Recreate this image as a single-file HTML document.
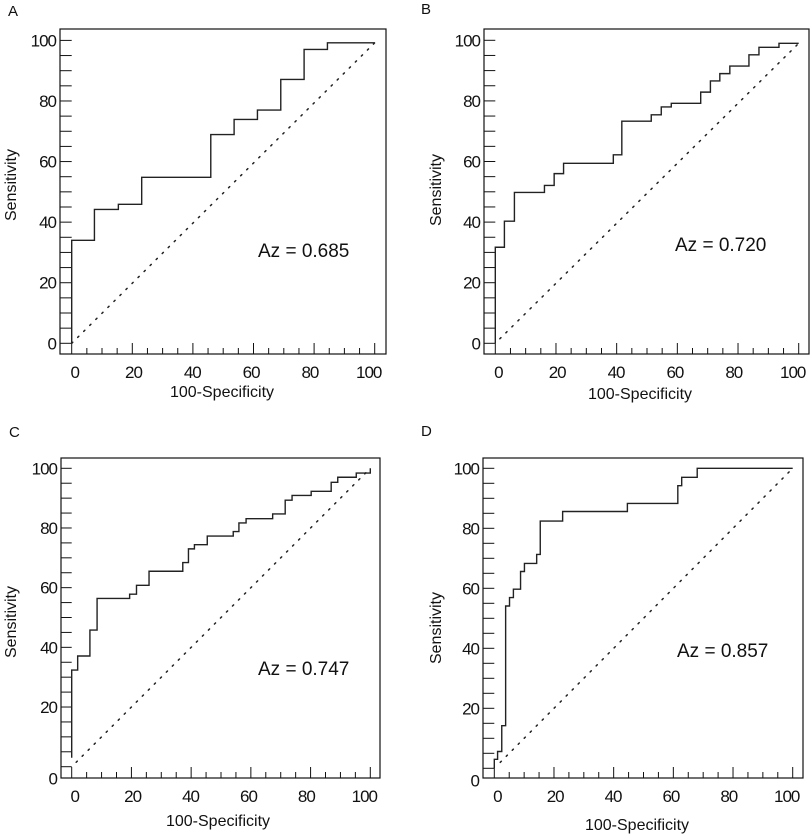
<!DOCTYPE html>
<html><head><meta charset="utf-8"><style>
html,body{margin:0;padding:0;background:#fff;}
svg{display:block;font-family:"Liberation Sans",Arial,sans-serif;}
</style></head><body>
<svg id="chart" width="810" height="835" viewBox="0 0 810 835" xmlns="http://www.w3.org/2000/svg"></svg>
<script>
// ---- data ----
const panelLetters = ["A","B","C","D"];
const azValues = ["0.685","0.720","0.747","0.857"];
const tickValues = [0,20,40,60,80,100];
const aX = [0,0,7.5,15.4,23.1,45.9,53.6,61.3,69,76.7,84.4,100];
const aY = [0,34,44.2,45.9,54.8,68.9,73.9,77,87.1,97,99.2,99.2];
const bX = [0,0,3,6.3,16.2,19.4,22.5,38.9,41.7,51.4,54.7,58,67.7,70.9,74,77.3,83.6,86.9,93.5,100];
const bY = [0,31.7,40.3,49.8,52.1,56,59.4,62.2,73.3,75.4,78,79.2,82.9,86.6,89,91.5,95.2,97.7,99,99];
const cX = [0,0,2,6.1,8.5,19.4,21.7,25.9,37.2,39.1,41.1,45.4,54.1,56,58.4,67.3,71.5,73.8,80.2,86.9,89.1,95.3,100];
const cY = [3,32.4,37.1,45.8,56.4,57.8,60.8,65.5,68.4,73,74.4,77.3,78.8,81.7,83.1,84.7,89.3,90.9,92.3,95.3,97,98.4,100];
const dX = [0,0,1.1,2.5,3.8,5.1,6.4,8.8,10.1,14.2,15.4,22.9,44.6,61.5,62.8,68,100];
const dY = [0,3,5.6,14.2,54.1,56.9,59.7,65.6,68.3,71.3,82.4,85.6,88.3,94.2,97,100,100];
const diagStart = [[0,0],[1.5,1.5],[1.5,1.5],[2,2]];
const diagEnd = [[100,99.2],[100,99],[100,100],[100,100]];

// ---- layout (styling only) ----
const layout = [
 {fl:60,fr:386,ft:29,fb:354,x0:71.7,x1:374.7,y0:343.3,y1:40.4,lx:8,ly:16,sx:16,sy:185,xtx:222,xty:397,azx:258,azy:257,zeroLbl:0},
 {fl:484,fr:809,ft:29,fb:354,x0:495.3,x1:798.7,y0:343.3,y1:40.3,lx:421,ly:14,sx:441,sy:190,xtx:640,xty:399,azx:675,azy:251,zeroLbl:0},
 {fl:61,fr:380,ft:458,fb:778,x0:71.7,x1:370.3,y0:766.7,y1:468.3,lx:9,ly:437,sx:16,sy:622,xtx:218,xty:826,azx:258,azy:675,zeroLbl:12},
 {fl:483,fr:803,ft:458,fb:778,x0:494.3,x1:792.7,y0:768.3,y1:468.3,lx:421,ly:436,sx:441,sy:628,xtx:637,xty:830,azx:677,azy:657,zeroLbl:12}
];
const seriesX = [aX,bX,cX,dX];
const seriesY = [aY,bY,cY,dY];

const NS="http://www.w3.org/2000/svg";
const svg=document.getElementById('chart');
function mk(tag,attrs,parent){const e=document.createElementNS(NS,tag);for(const k in attrs)e.setAttribute(k,attrs[k]);(parent||svg).appendChild(e);return e;}

layout.forEach((L,i)=>{
  const sx=v=>L.x0+(L.x1-L.x0)*v/100;
  const sy=v=>L.y0+(L.y1-L.y0)*v/100;
  const g=mk('g',{});
  
  
  const lt=mk('text',{x:L.lx,y:L.ly,'font-size':15,fill:'#111'},g);
  lt.textContent=panelLetters[i];
  
  
  const fr=mk('rect',{x:L.fl,y:L.ft,width:L.fr-L.fl,height:L.fb-L.ft,fill:'none',stroke:'#111','stroke-width':1.2},g);
  
  
  for(let v=0;v<=100;v+=5){
    const t=mk('line',{x1:L.fl,x2:L.x0,y1:sy(v),y2:sy(v),stroke:'#111','stroke-width':1},g);
    
    
    const xt=mk('line',{x1:sx(v),x2:sx(v),y1:L.fb,y2:L.fb-(v%20===0?11:6),stroke:'#111','stroke-width':1},g);
    
    
  }
  tickValues.forEach(v=>{
    const yl=mk('text',{x:L.fl-4,y:sy(v)+6+(v===0?L.zeroLbl:0),'font-size':17,'text-anchor':'end','letter-spacing':'-1',fill:'#111'},g);
    yl.textContent=v;
    
    
    const xl=mk('text',{x:sx(v)+3-v*0.09,y:L.fb+24,'font-size':17,'text-anchor':'middle','letter-spacing':'-1',fill:'#111'},g);
    xl.textContent=v;
    
    
  });
  const ya=mk('text',{x:0,y:0,'font-size':16,'text-anchor':'middle',fill:'#111',transform:`translate(${L.sx},${L.sy}) rotate(-90)`},g);
  ya.textContent='Sensitivity';
  
  
  const xa=mk('text',{x:L.xtx,y:L.xty,'font-size':16,'text-anchor':'middle',fill:'#111'},g);
  xa.textContent='100-Specificity';
  
  
  const dg=mk('line',{x1:sx(diagStart[i][0]),y1:sy(diagStart[i][1]),x2:sx(diagEnd[i][0]),y2:sy(diagEnd[i][1]),stroke:'#222','stroke-width':1.5,'stroke-dasharray':'1.5 7','stroke-linecap':'round'},g);
  
  
  const X=seriesX[i],Y=seriesY[i];
  let d=`M${sx(X[0])},${sy(Y[0])}`;
  for(let k=1;k<X.length;k++){d+=` L${sx(X[k])},${sy(Y[k-1])} L${sx(X[k])},${sy(Y[k])}`;}
  const p=mk('path',{d:d,fill:'none',stroke:'#222','stroke-width':1.4},g);
  
  
  const az=mk('text',{x:L.azx,y:L.azy,'font-size':19,fill:'#111'},g);
  az.textContent='Az = '+azValues[i];
  
  
});
</script>
</body></html>
